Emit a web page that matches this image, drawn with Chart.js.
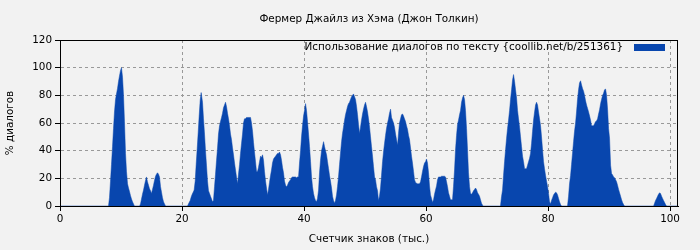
<!DOCTYPE html>
<html>
<head>
<meta charset="utf-8">
<script src="https://cdn.jsdelivr.net/npm/chart.js@4"></script>
<style>
html,body{margin:0;padding:0;background:#f2f2f2;}
#c{display:block;}
</style>
</head>
<body>
<canvas id="c" width="700" height="250"></canvas>
<script>
const chartTitle = 'Фермер Джайлз из Хэма (Джон Толкин)';
const legendLabel = 'Использование диалогов по тексту {coollib.net/b/251361}';
const xAxisTitle = 'Счетчик знаков (тыс.)';
const yAxisTitle = '% диалогов';
const xTicks = [0, 20, 40, 60, 80, 100];
const yTicks = [0, 20, 40, 60, 80, 100, 120];

const dialogX = [
 0, 7.95, 8.11, 8.28, 8.44, 8.61, 8.77, 8.93, 9.10, 9.26, 9.43, 9.59, 9.75, 9.92, 10.08, 10.25, 10.41, 10.57, 10.74, 10.90, 11.07, 11.23, 11.39, 11.56, 11.72, 11.89, 12.05, 12.2,
 13.05, 13.2, 13.36, 13.52, 13.69, 13.85, 14.02, 14.18, 14.34, 14.51, 14.67, 14.84, 15.0, 15.16, 15.33, 15.49, 15.66, 15.82, 15.98, 16.15, 16.31, 16.48, 16.64, 16.80, 16.97, 17.13, 17.3,
 20.9, 21.01, 21.17, 21.34, 21.50, 21.67, 21.83, 21.99, 22.16, 22.32, 22.49, 22.65, 22.81, 22.98, 23.14,
 23.36, 23.52, 23.69, 23.85, 24.02, 24.18, 24.34, 24.51, 24.67, 24.84, 25.00, 25.16, 25.33, 25.49, 25.66, 25.82, 25.98, 26.15, 26.31, 26.48, 26.64, 26.80, 26.97, 27.13, 27.29, 27.46, 27.62, 27.79, 27.95, 28.11, 28.28, 28.44, 28.61, 28.77, 28.93, 29.10, 29.26, 29.43, 29.59, 29.75, 29.92, 30.08, 30.24, 30.41, 30.57, 30.74, 30.90, 31.07, 31.23, 31.39, 31.56, 31.72, 31.88, 32.05, 32.21, 32.38, 32.54, 32.70, 32.87, 33.03, 33.20, 33.36, 33.52, 33.69, 33.85, 34.01, 34.18, 34.34, 34.51, 34.67, 34.83, 35.00, 35.16, 35.33, 35.49, 35.65, 35.82, 35.98, 36.15, 36.31, 36.47, 36.64, 36.80, 36.97, 37.13, 37.29, 37.46, 37.62, 37.79, 37.95, 38.11, 38.28, 38.44, 38.60, 38.77,
 38.93, 39.10, 39.26, 39.43, 39.59, 39.75, 39.92, 40.08, 40.25, 40.41, 40.57, 40.74, 40.90, 41.07, 41.23, 41.39, 41.56, 41.72, 41.88, 42.05, 42.21, 42.38, 42.54, 42.70, 42.87, 43.03, 43.20, 43.36, 43.52, 43.69, 43.85, 44.02, 44.18, 44.34, 44.51, 44.67, 44.83, 45.00, 45.16, 45.33, 45.49, 45.65, 45.82, 45.98, 46.15, 46.31, 46.47, 46.64, 46.80, 46.97, 47.13, 47.29, 47.46, 47.62, 47.79, 47.95, 48.11, 48.28, 48.44, 48.61, 48.77, 48.93, 49.10, 49.26, 49.42, 49.59, 49.75, 49.92, 50.08, 50.24, 50.41, 50.57, 50.74, 50.90, 51.06, 51.23, 51.39, 51.56, 51.72, 51.88, 52.05, 52.21, 52.37, 52.54, 52.70, 52.87, 53.03, 53.19, 53.36, 53.52, 53.69, 53.85, 54.01, 54.18, 54.34, 54.51,
 54.67, 54.83, 55.00, 55.16, 55.33, 55.49, 55.65, 55.82, 55.98, 56.15, 56.31, 56.47, 56.64, 56.80, 56.96, 57.13, 57.29, 57.46, 57.62, 57.78, 57.95, 58.11, 58.28, 58.44, 58.60, 58.77, 58.93, 59.10, 59.26, 59.42, 59.59, 59.75, 59.92, 60.08, 60.24, 60.41, 60.57, 60.73, 60.90, 61.06, 61.23, 61.39, 61.55, 61.72, 61.88, 62.05, 62.21, 62.37, 62.54, 62.70, 62.87, 63.03, 63.19, 63.36, 63.52, 63.68, 63.85, 64.01, 64.18, 64.34, 64.50, 64.67, 64.83, 65.00, 65.16, 65.32, 65.49, 65.65, 65.82, 65.98, 66.14, 66.31, 66.47, 66.64, 66.80, 66.96, 67.13, 67.29, 67.45, 67.62, 67.78, 67.95, 68.11, 68.27, 68.44, 68.60, 68.77, 68.93, 69.09, 69.26, 69.42,
 72.2, 72.38, 72.54, 72.70, 72.87, 73.03, 73.20, 73.36, 73.52, 73.69, 73.85, 74.02, 74.18, 74.34, 74.51, 74.67, 74.84, 75.00, 75.16, 75.33, 75.49, 75.65, 75.82, 75.98, 76.15, 76.31, 76.47, 76.64, 76.80, 76.97, 77.13, 77.29, 77.46, 77.62, 77.79, 77.95, 78.11, 78.28, 78.44, 78.61, 78.77, 78.93, 79.10, 79.26, 79.42, 79.59, 79.75, 79.92, 80.08, 80.24, 80.41, 80.57, 80.74, 80.90, 81.06, 81.23, 81.39, 81.56, 81.72, 81.88, 82.05, 82.21,
 83.19, 83.36, 83.52, 83.69, 83.85, 84.01, 84.18, 84.34, 84.51, 84.67, 84.83, 85.00, 85.16, 85.33, 85.49, 85.65, 85.82, 85.98,
 86.15, 86.31, 86.48, 86.64, 86.81, 86.97, 87.13, 87.30, 87.46, 87.63, 87.79, 87.95, 88.12, 88.28, 88.44, 88.61, 88.77, 88.94, 89.10, 89.26, 89.43, 89.59, 89.76, 89.92, 90.08, 90.25, 90.41, 90.58, 90.74, 90.90, 91.07, 91.23, 91.39, 91.56, 91.72, 91.89, 92.05, 92.21, 92.38, 92.54,
 97.3, 97.46, 97.62, 97.79, 97.95, 98.11, 98.28, 98.44, 98.61, 98.77, 98.93, 99.10, 99.26, 99.43, 101.3
];

const dialogPct = [
 0, 0, 6, 18, 30, 43, 56, 68, 77, 81, 85, 90, 94, 98, 100, 93, 80, 61, 38, 25, 16, 13, 10.5, 7.5, 5, 3, 1.5, 0,
 0, 1.5, 5, 8.5, 11.5, 15, 18.5, 21, 17.5, 15, 12.5, 11, 9, 12, 15, 18.5, 21.5, 23, 24, 23, 21, 14, 10, 6, 3, 1.5, 0,
 0, 1, 2.5, 4, 6.5, 8.5, 10, 11.5, 18, 30, 41.5, 53, 65, 76.5, 82,
 75, 63, 52, 40, 29, 18, 11, 9, 7, 5, 3, 4, 14, 23, 33, 42, 52, 58, 61, 64, 67, 71, 73, 75, 72, 67, 63, 58, 52, 48, 42, 37, 31, 26, 21, 16, 23, 30, 38, 45, 52, 60, 63, 63, 64, 64, 64, 64, 64, 60, 54, 46, 39, 32, 25, 25, 28, 32, 36, 35, 37, 33, 25, 18, 13, 8, 12, 17, 22, 26, 31, 34, 35, 36, 37, 38, 38, 39, 37, 33, 28, 24, 18, 15, 14, 15, 17, 18, 19, 20.5, 21, 21, 21, 21, 20.5,
 21, 21, 31, 40, 50, 58, 65, 69, 74, 69, 61, 52, 43, 32, 21, 14, 9, 6, 4, 3, 5.5, 11.5, 24, 33, 40, 43, 46.5, 43, 40, 37, 32, 27, 22, 18, 13, 7, 4, 2, 4, 8, 14, 21, 30, 38, 46.5, 52.5, 57, 62, 66, 69, 72, 74, 75, 77, 79, 80, 81, 79, 77, 72, 66, 59, 52.5, 57, 62, 66.5, 70, 73, 75, 72, 68, 63, 57, 50, 43, 36, 28.5, 21, 19, 14, 11, 4, 7, 13, 22, 32, 39, 45, 51, 56, 60, 63, 67, 70, 64, 62,
 60, 57, 52, 48, 44, 52.5, 60, 63, 66, 66.5, 65, 63, 61, 58, 55.5, 51, 48, 42, 36, 31, 25, 19, 17, 16.5, 16, 16, 16, 17.5, 21, 25, 28.5, 31, 32, 34, 31, 24, 14.5, 8, 5.5, 2.5, 4.5, 8.5, 11.5, 14.5, 19, 21, 21, 21, 21.5, 21.5, 21.5, 21.5, 21, 17.5, 14, 9.5, 7, 4.5, 4.5, 4.5, 14, 26, 40.5, 51, 59, 62, 66, 69, 75, 78, 80, 77, 69, 56, 40.5, 24, 14, 9, 8.5, 9.5, 11, 12, 13, 12, 9.5, 8.5, 7, 4.5, 2, 0.5, 0,
 0, 7, 11.5, 22, 32, 40.5, 49, 56, 62, 69, 77, 84, 91, 95, 90, 84, 78, 69, 63, 57, 50, 43, 36, 32, 27, 27, 27, 29.5, 32, 34.5, 38, 45, 54, 62, 68, 73, 75, 73, 68, 63, 58, 50, 40.5, 32, 27, 22, 18, 14, 9, 3, 1.5, 4, 6, 8, 9, 10, 9.5, 8, 5.5, 3, 1, 0,
 0, 7, 16, 22, 30, 38, 46.5, 54, 60, 68, 77, 84, 89, 90.5, 87.5, 85, 83, 80,
 76, 73, 70.5, 68, 65, 62, 58, 58, 58, 59.5, 61, 61.5, 63, 66.5, 69.5, 74, 77, 80, 81.5, 84, 84.5, 80, 69.5, 56, 49, 29.5, 23.5, 22.5, 21, 20.5, 19, 17.5, 15, 12, 9.5, 7, 4.5, 2.5, 1, 0,
 0, 2, 4, 5.5, 7, 8.5, 9.5, 9, 7, 5.5, 4, 2.5, 1, 0, 0
];

const FONT = 'DejaVu Sans';
const FSIZE = 10.4;
const FILL = '#0846ae';

const points = dialogX.map((x, i) => ({ x: x, y: dialogPct[i] }));

const bgPlugin = {
  id: 'bg',
  beforeDraw(c) {
    const ctx = c.ctx;
    ctx.save();
    ctx.fillStyle = '#f2f2f2';
    ctx.fillRect(0, 0, c.width, c.height);
    ctx.restore();
  }
};

const framePlugin = {
  id: 'frame',
  afterDraw(c) {
    const ctx = c.ctx, a = c.chartArea;
    ctx.save();
    ctx.strokeStyle = '#000';
    ctx.lineWidth = 1;
    ctx.strokeRect(a.left + 0.5, a.top + 0.5, a.right - a.left - 1, a.bottom - a.top);
    ctx.fillStyle = '#000';
    ctx.font = FSIZE + 'px "' + FONT + '"';
    ctx.textAlign = 'center';
    ctx.textBaseline = 'middle';
    ctx.fillText(chartTitle, (a.left + a.right) / 2, 19);
    ctx.textAlign = 'right';
    ctx.fillText(legendLabel, a.right - 55, a.top + 7);
    ctx.fillStyle = FILL;
    ctx.fillRect(a.right - 44, a.top + 4, 31, 7);
    ctx.restore();
  }
};

new Chart(document.getElementById('c'), {
  type: 'line',
  data: {
    datasets: [{
      label: legendLabel,
      data: points,
      fill: 'origin',
      backgroundColor: FILL,
      borderColor: FILL,
      borderWidth: 0.5,
      pointRadius: 0,
      tension: 0
    }]
  },
  options: {
    responsive: false,
    animation: false,
    devicePixelRatio: 1,
    layout: { padding: { top: 40, right: 22, left: 0, bottom: 0 } },
    plugins: { legend: { display: false }, title: { display: false }, tooltip: { enabled: false } },
    scales: {
      x: {
        type: 'linear',
        min: 0,
        max: 101.3,
        afterBuildTicks(scale) { scale.ticks = xTicks.map(v => ({ value: v })); },
        afterFit(scale) { scale.height = 44; },
        ticks: { stepSize: 20, color: '#000', font: { family: FONT, size: FSIZE }, padding: 2, maxRotation: 0 },
        grid: {
          color: (ctx) => (ctx.tick && (ctx.tick.value === 0) ? 'rgba(0,0,0,0)' : '#999'),
          lineWidth: 1,
          tickLength: 5,
          tickColor: '#000',
          tickBorderDash: []
        },
        border: { color: '#000', dash: [3, 3] },
        title: { display: true, text: xAxisTitle, color: '#000', font: { family: FONT, size: FSIZE }, padding: { top: 4, bottom: 4 } }
      },
      y: {
        min: 0,
        max: 120,
        afterBuildTicks(scale) { scale.ticks = yTicks.map(v => ({ value: v })); },
        afterFit(scale) { scale.width = 60; },
        ticks: { stepSize: 20, color: '#000', font: { family: FONT, size: FSIZE }, padding: 3 },
        grid: {
          color: (ctx) => (ctx.tick && (ctx.tick.value === 0 || ctx.tick.value === 120) ? 'rgba(0,0,0,0)' : '#999'),
          lineWidth: 1,
          tickLength: 5,
          tickColor: '#000',
          tickBorderDash: []
        },
        border: { color: '#000', dash: [3, 3] },
        title: { display: true, text: yAxisTitle, color: '#000', font: { family: FONT, size: FSIZE }, padding: { top: 4, bottom: 4 } }
      }
    }
  },
  plugins: [bgPlugin, framePlugin]
});
</script>
</body>
</html>
